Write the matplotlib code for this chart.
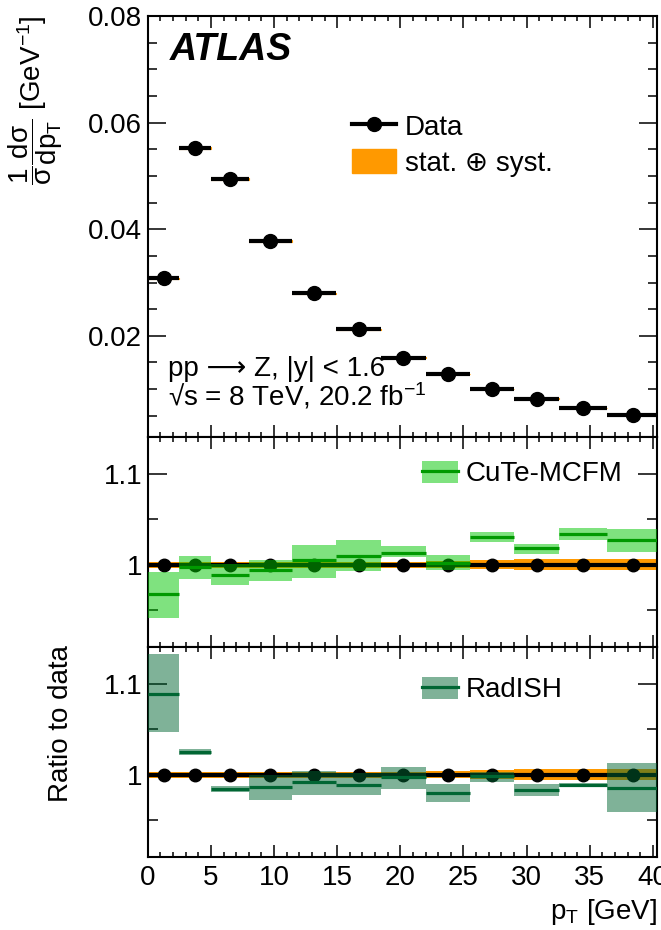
import numpy as np
import matplotlib
matplotlib.use("Agg")
import matplotlib.pyplot as plt
from matplotlib.lines import Line2D
from matplotlib.patches import Patch
from matplotlib.ticker import MultipleLocator, FormatStrFormatter

plt.rcParams['font.family'] = ['Liberation Sans', 'DejaVu Sans']
plt.rcParams['mathtext.fontset'] = 'custom'
plt.rcParams['mathtext.rm'] = 'Liberation Sans'
plt.rcParams['mathtext.it'] = 'Liberation Sans:italic'
plt.rcParams['mathtext.bf'] = 'Liberation Sans:bold'
plt.rcParams['mathtext.default'] = 'regular'

# pT bins [GeV]
edges = [0, 2.5, 5, 8, 11.4, 14.9, 18.5, 22, 25.5, 29, 32.6, 36.4, 40.4]

# normalised cross section and relative uncertainty
xsec = [0.0308, 0.0553, 0.0494, 0.0378, 0.0280, 0.0212,
        0.0159, 0.0128, 0.0100, 0.0082, 0.0065, 0.0052]
data_unc = [0.003, 0.003, 0.003, 0.003, 0.003, 0.003,
            0.003, 0.004, 0.005, 0.006, 0.006, 0.006]

# predictions / data
cute = [0.968, 0.998, 0.989, 0.994, 1.005, 1.010,
        1.013, 1.002, 1.031, 1.018, 1.034, 1.027]
cute_lo = [0.942, 0.985, 0.978, 0.982, 0.986, 0.993,
           1.009, 0.9945, 1.0255, 1.012, 1.027, 1.014]
cute_hi = [0.992, 1.0095, 1.001, 1.0055, 1.022, 1.027,
           1.021, 1.011, 1.036, 1.023, 1.0405, 1.039]

radish = [1.089, 1.025, 0.985, 0.9865, 0.9916, 0.9894,
          0.9978, 0.980, 0.9985, 0.9836, 0.9887, 0.9858]
radish_lo = [1.047, 1.0215, 0.981, 0.9723, 0.978, 0.9774,
             0.9847, 0.970, 0.9916, 0.9766, 0.9869, 0.9588]
radish_hi = [1.132, 1.0288, 0.988, 1.0, 1.0047, 1.0018,
             1.0091, 0.990, 1.0033, 0.990, 0.9909, 1.0128]

edges = np.array(edges)
centers = 0.5 * (edges[:-1] + edges[1:])
widths = np.diff(edges)
xsec = np.array(xsec)
unc = np.array(data_unc)

ORANGE = '#ff9900'
CUTE_BAND = (0.0, 0.78, 0.0)
CUTE_LINE = '#009900'
RAD_BAND = (0.0, 0.40, 0.20)
RAD_LINE = '#006633'
FS = 20

fig = plt.figure(figsize=(6.61, 9.30), dpi=100)
left, width = 0.2235, 0.770
ax0 = fig.add_axes([left, 0.530, width, 0.4527])
ax1 = fig.add_axes([left, 0.3043, width, 0.2258])
ax2 = fig.add_axes([left, 0.0785, width, 0.2258])


def style(ax, ylen):
    for s in ax.spines.values():
        s.set_linewidth(1.5)
    ax.set_xlim(0, 40.3)
    ax.xaxis.set_major_locator(MultipleLocator(5))
    ax.xaxis.set_minor_locator(MultipleLocator(1))
    ax.tick_params(axis='both', which='both', direction='in', top=True, right=True,
                   width=1.1, labelsize=FS)
    ax.tick_params(axis='x', which='major', length=8.5)
    ax.tick_params(axis='x', which='minor', length=3.8)
    ax.tick_params(axis='y', which='major', length=ylen, pad=4)
    ax.tick_params(axis='y', which='minor', length=ylen / 2)


# top panel: normalised distribution
style(ax0, 13)
ax0.set_ylim(0.001, 0.08)
ax0.yaxis.set_major_locator(MultipleLocator(0.02))
ax0.yaxis.set_minor_locator(MultipleLocator(0.005))
ax0.yaxis.set_major_formatter(FormatStrFormatter('%.2f'))
ax0.tick_params(axis='x', labelbottom=False)

err = xsec * unc
ax0.bar(centers, 2 * err, bottom=xsec - err, width=widths, color=ORANGE,
        edgecolor=ORANGE, linewidth=0.8, zorder=1)
ax0.errorbar(centers, xsec, xerr=widths / 2, fmt='o', color='k', ms=10,
             elinewidth=3, capsize=0, zorder=2)

ax0.text(0.044, 0.8955, 'ATLAS', transform=ax0.transAxes, fontsize=27,
         fontweight='bold', fontstyle='italic', va='baseline')
ax0.text(0.040, 0.145, 'pp \u27f6 Z, |y| < 1.6', transform=ax0.transAxes,
         fontsize=FS, va='baseline')
ax0.text(0.040, 0.076, '\u221as = 8 TeV, 20.2 fb$^{-1}$', transform=ax0.transAxes,
         fontsize=FS, va='baseline')

h_data = Line2D([], [], color='k', marker='o', ms=10, lw=3)
h_unc = Patch(facecolor=ORANGE, edgecolor=ORANGE)
ax0.legend([h_data, h_unc], ['Data', 'stat. \u2295 syst.'], loc='center left',
           bbox_to_anchor=(0.401, 0.694), frameon=False, fontsize=FS,
           handlelength=1.6, handleheight=0.95, handletextpad=0.3,
           labelspacing=0.3, borderpad=0, borderaxespad=0)


def ratio_panel(ax, vals, lo, hi, band, line, label, leg_y):
    style(ax, 14)
    ax.set_ylim(0.91, 1.14)
    ax.yaxis.set_major_locator(MultipleLocator(0.1))
    ax.yaxis.set_minor_locator(MultipleLocator(0.05))
    ax.yaxis.set_major_formatter(FormatStrFormatter('%g'))
    ax.bar(centers, 2 * unc, bottom=1 - unc, width=widths, color=ORANGE,
           edgecolor='none', zorder=1)
    ax.errorbar(centers, np.ones_like(centers), xerr=widths / 2, fmt='o', color='k',
                ms=9, elinewidth=3, capsize=0, zorder=2)
    lo = np.array(lo)
    hi = np.array(hi)
    ax.bar(centers, hi - lo, bottom=lo, width=widths, color=band, alpha=0.5,
           edgecolor='none', zorder=3)
    ax.hlines(vals, edges[:-1], edges[1:], color=line, lw=2.3, zorder=4)
    hp = Patch(facecolor=band, alpha=0.5, edgecolor='none')
    hl = Line2D([], [], color=line, lw=2.3)
    ax.legend([(hp, hl)], [label], loc='center left', bbox_to_anchor=(0.538, leg_y),
              frameon=False, fontsize=FS, handlelength=1.3, handleheight=0.85,
              handletextpad=0.3, borderpad=0, borderaxespad=0)


ratio_panel(ax1, cute, cute_lo, cute_hi, CUTE_BAND, CUTE_LINE, 'CuTe-MCFM', 0.824)
ax1.tick_params(axis='x', labelbottom=False)
ratio_panel(ax2, radish, radish_lo, radish_hi, RAD_BAND, RAD_LINE, 'RadISH', 0.795)
ax2.tick_params(axis='x', pad=6)
ax2.set_xlabel(r'p$_{T}$ [GeV]', fontsize=FS, loc='right', labelpad=4)

fig.text(0.054, 0.984, r'$\dfrac{1}{\sigma}\dfrac{d\sigma}{dp_{T}}$ [GeV$^{-1}$]',
         rotation=90, ha='center', va='top', fontsize=FS)
fig.text(0.092, 0.3065, 'Ratio to data', rotation=90, ha='center', va='top',
         fontsize=FS)

fig.savefig('out.png', dpi=100)
